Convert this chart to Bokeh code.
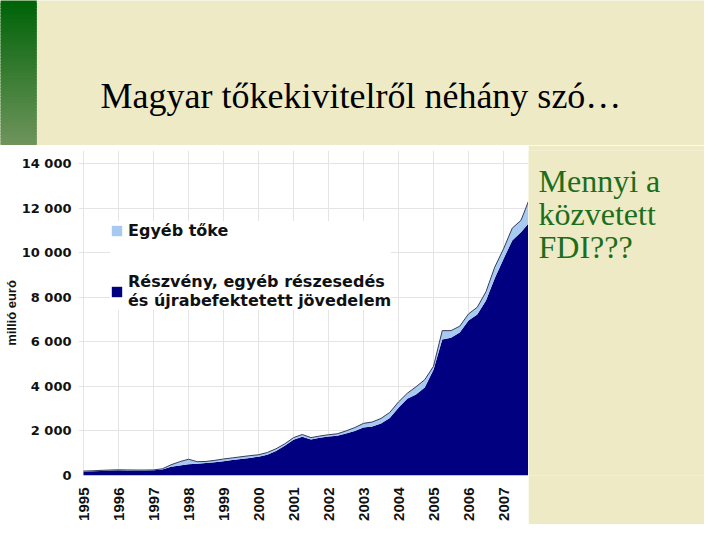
import math
from bokeh.plotting import figure
from bokeh.layouts import column, row
from bokeh.models import Range1d, FixedTicker, Legend, LegendItem
from bokeh.core.properties import value
from bokeh.embed import file_html
from bokeh.resources import INLINE

# ---------------- data ----------------
quarters = [1995.00, 1995.25, 1995.50, 1995.75,
            1996.00, 1996.25, 1996.50, 1996.75,
            1997.00, 1997.25, 1997.50, 1997.75,
            1998.00, 1998.25, 1998.50, 1998.75,
            1999.00, 1999.25, 1999.50, 1999.75,
            2000.00, 2000.25, 2000.50, 2000.75,
            2001.00, 2001.25, 2001.50, 2001.75,
            2002.00, 2002.25, 2002.50, 2002.75,
            2003.00, 2003.25, 2003.50, 2003.75,
            2004.00, 2004.25, 2004.50, 2004.75,
            2005.00, 2005.25, 2005.50, 2005.75,
            2006.00, 2006.25, 2006.50, 2006.75,
            2007.00, 2007.25, 2007.50, 2007.75]

# total stock (top of the light-blue band), millió euró
total = [200, 210, 230, 245,
         255, 250, 245, 245,
         250, 300, 480, 620,
         730, 620, 630, 680,
         740, 790, 840, 890,
         930, 1030, 1200, 1420,
         1700, 1840, 1700, 1770,
         1830, 1870, 2000, 2150,
         2340, 2400, 2560, 2830,
         3300, 3690, 3980, 4300,
         4900, 6500, 6500, 6700,
         7250, 7550, 8250, 9350,
         10170, 11100, 11450, 12450]

# Részvény, egyéb részesedés és újrabefektetett jövedelem
reszveny = [180, 190, 205, 220,
            230, 225, 220, 225,
            230, 270, 390, 450,
            500, 530, 560, 600,
            640, 690, 740, 790,
            840, 930, 1100, 1330,
            1600, 1740, 1620, 1690,
            1750, 1780, 1890, 2000,
            2150, 2200, 2330, 2580,
            3040, 3440, 3640, 3950,
            4750, 6100, 6180, 6420,
            6950, 7220, 7850, 8850,
            9720, 10540, 10920, 11370]

years = [1995, 1996, 1997, 1998, 1999, 2000, 2001,
         2002, 2003, 2004, 2005, 2006, 2007]
y_ticks = [0, 2000, 4000, 6000, 8000, 10000, 12000, 14000]
y_tick_labels = ["0", "2 000", "4 000", "6 000", "8 000",
                 "10 000", "12 000", "14 000"]

title_text = "Magyar tőkekivitelről néhány szó…"
side_lines = ["Mennyi a", "közvetett", "FDI???"]
legend_labels = ["Egyéb tőke",
                 "Részvény, egyéb részesedés\nés újrabefektetett jövedelem"]

# ---------------- styles ----------------
BEIGE = "#EEEAC6"
NAVY = "#000080"
LIGHT = "#A6CAF0"
GRID = "#E4E4E4"
SANS = "Liberation Sans"
WIDE = "DejaVu Sans"
SERIF = "Liberation Serif"

# ---------------- top (title) strip ----------------
TOP_H = 145
top = figure(width=704, height=TOP_H, x_range=Range1d(0, 704), y_range=Range1d(0, TOP_H),
             title=None, min_border=0, toolbar_location=None, output_backend="svg")
top.axis.visible = False
top.grid.visible = False
top.outline_line_color = None
top.background_fill_color = BEIGE
top.border_fill_color = BEIGE

# green gradient bar on the left
n_bands = 48
c0 = (0, 100, 8)
c1 = (110, 148, 92)
band_h = TOP_H / n_bands
lefts, rights, tops, bottoms, cols = [], [], [], [], []
for i in range(n_bands):
    f = i / (n_bands - 1)
    c = tuple(int(round(c0[k] + (c1[k] - c0[k]) * f)) for k in range(3))
    cols.append("#%02x%02x%02x" % c)
    tops.append(TOP_H - i * band_h)
    bottoms.append(max(0, TOP_H - (i + 1) * band_h - 1.5))
    lefts.append(0)
    rights.append(36)
top.quad(left=lefts, right=rights, top=tops, bottom=bottoms, fill_color=cols,
         line_color=cols, line_width=0.5)

top.text(x=[100], y=[50], text=[title_text], text_font=value(SERIF), text_font_size="36px",
         text_color="black", text_baseline="alphabetic", text_align="left")

# ---------------- chart ----------------
CH_H = 379
p = figure(width=528, height=CH_H, title=None,
           x_range=Range1d(1995 - 5 / 35, 1995 - 5 / 35 + 450 / 35),
           y_range=Range1d(0, 14583),
           min_border_left=78, min_border_right=0, min_border_top=5, min_border_bottom=49,
           toolbar_location=None, output_backend="svg")
p.background_fill_color = "white"
p.border_fill_color = "white"
p.outline_line_color = None

r_dark = p.varea(x=quarters, y1=[0] * len(quarters), y2=reszveny, fill_color=NAVY)
r_light = p.varea(x=quarters, y1=reszveny, y2=total, fill_color=LIGHT)
p.line(x=quarters, y=total, line_color="#3A3A5A", line_width=1)

p.xaxis.ticker = FixedTicker(ticks=years)
p.yaxis.ticker = FixedTicker(ticks=y_ticks)
p.yaxis.major_label_overrides = {t: l for t, l in zip(y_ticks, y_tick_labels)}
p.xgrid.ticker = FixedTicker(ticks=years)
p.ygrid.ticker = FixedTicker(ticks=y_ticks)
p.grid.grid_line_color = GRID
p.grid.grid_line_width = 1
p.grid.level = "underlay"

for ax in (p.xaxis, p.yaxis):
    ax.axis_line_color = None
    ax.major_tick_line_color = None
    ax.minor_tick_line_color = None
    ax.major_tick_out = 0
    ax.major_tick_in = 0
    ax.major_label_text_font_style = "bold"
    ax.major_label_text_color = "#111111"

p.xaxis.major_label_text_font = SANS
p.xaxis.major_label_orientation = math.pi / 2
p.xaxis.major_label_text_font_size = "15px"
p.xaxis.major_label_standoff = 12

p.yaxis.major_label_text_font = WIDE
p.yaxis.major_label_text_font_size = "13px"
p.yaxis.major_label_standoff = 7
p.yaxis.axis_label = "millió euró"
p.yaxis.axis_label_text_font = SANS
p.yaxis.axis_label_text_font_size = "13px"
p.yaxis.axis_label_text_font_style = "bold"
p.yaxis.axis_label_text_color = "#111111"
p.yaxis.axis_label_standoff = 0

legend = Legend(items=[LegendItem(label=legend_labels[0], renderers=[r_light]),
                       LegendItem(label=legend_labels[1], renderers=[r_dark])],
                location=(32, 165))
legend.padding = 4
legend.margin = 0
legend.spacing = 32
legend.glyph_width = 13
legend.glyph_height = 13
legend.label_standoff = 5
legend.label_text_font = WIDE
legend.label_text_font_size = "16px"
legend.label_text_font_style = "bold"
legend.label_text_color = "#111111"
legend.background_fill_color = "white"
legend.background_fill_alpha = 1.0
legend.border_line_color = None
p.add_layout(legend, "center")

# ---------------- right text panel ----------------
side = figure(width=176, height=CH_H, x_range=Range1d(0, 176), y_range=Range1d(0, CH_H),
              title=None, min_border=0, toolbar_location=None, output_backend="svg")
side.axis.visible = False
side.grid.visible = False
side.outline_line_color = None
side.background_fill_color = BEIGE
side.border_fill_color = BEIGE
side.text(x=[10, 10, 10], y=[343, 305, 267], text=side_lines, text_font=value(SERIF),
          text_font_size="32px", text_color="#1B6E1B", text_baseline="alphabetic",
          text_align="left")

layout = column(top, row(p, side, spacing=0), spacing=0)

open("out.html", "w").write(file_html(layout, INLINE))
